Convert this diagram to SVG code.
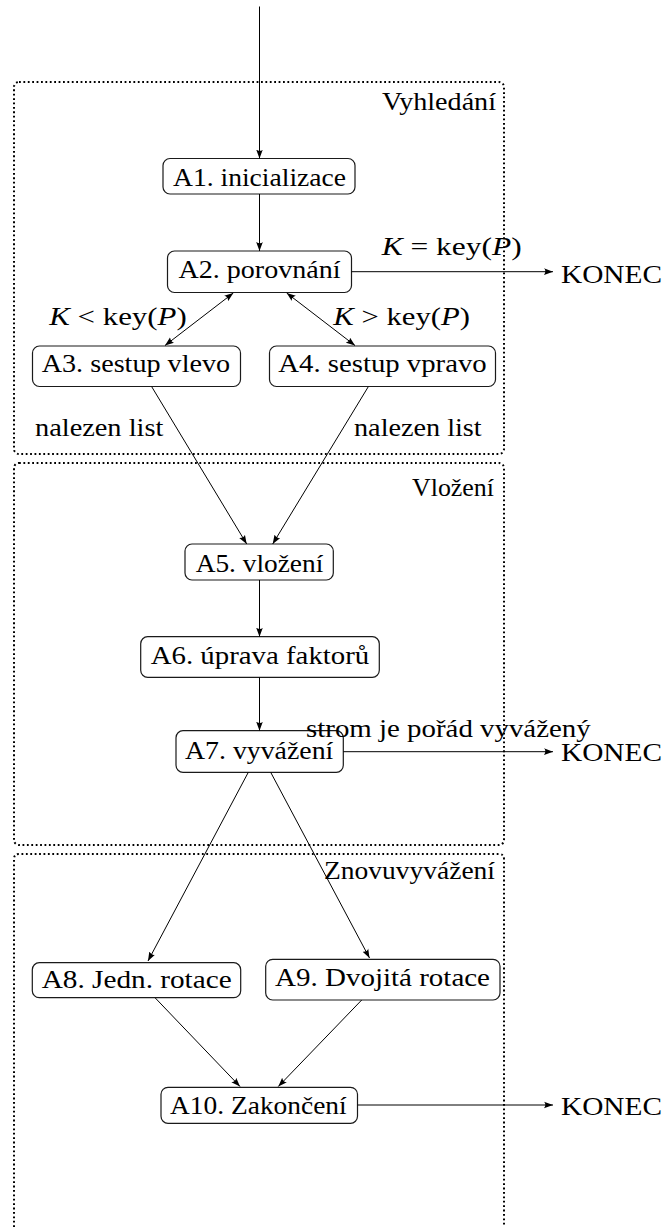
<svg xmlns="http://www.w3.org/2000/svg" width="663" height="1227" viewBox="0 0 663 1227">
<style>
  text { font-family: "Liberation Serif", "Times New Roman", serif; font-size: 25px; fill: #000; }
  .it { font-style: italic; }
  .node rect { fill: #fff; stroke: #1a1a1a; stroke-width: 1.2; }
  .frame { fill: none; stroke: #000; stroke-width: 2; stroke-dasharray: 1.8 2.6; }
  .conn line { stroke: #000; stroke-width: 1; fill: none; }
</style>
<defs>
  <marker id="arr" viewBox="0 0 10 8" refX="10" refY="4" markerWidth="9" markerHeight="7.2" markerUnits="userSpaceOnUse" orient="auto-start-reverse">
    <path d="M0,0.3 Q3,3 0,7.7 L10,4 Z" fill="#000"/>
  </marker>
</defs>
<rect width="663" height="1227" fill="#fff"/>

<g id="frames">
  <rect class="frame" x="14" y="82" width="490" height="372" rx="5"/>
  <rect class="frame" x="14" y="463" width="490" height="382" rx="5"/>
  <path class="frame" d="M14,1227 V859 Q14,854 19,854 H499 Q504,854 504,859 V1227"/>
  <text x="382" y="110" textLength="114" lengthAdjust="spacingAndGlyphs">Vyhledání</text>
  <text x="412" y="496" textLength="82" lengthAdjust="spacingAndGlyphs">Vložení</text>
  <text x="324" y="879" textLength="171" lengthAdjust="spacingAndGlyphs">Znovuvyvážení</text>
</g>

<g id="nodes">
  <g id="A1" class="node"><rect x="163" y="158.5" width="192" height="35.5" rx="7"/><text x="173" y="186" textLength="173" lengthAdjust="spacingAndGlyphs">A1. inicializace</text></g>
  <g id="A2" class="node"><rect x="167.5" y="251" width="184" height="41.5" rx="7"/><text x="178.5" y="277.7" textLength="162" lengthAdjust="spacingAndGlyphs">A2. porovnání</text></g>
  <g id="A3" class="node"><rect x="32.5" y="346" width="208" height="40.5" rx="7"/><text x="41.7" y="371.7" textLength="188.5" lengthAdjust="spacingAndGlyphs">A3. sestup vlevo</text></g>
  <g id="A4" class="node"><rect x="269.5" y="346" width="226" height="40.5" rx="7"/><text x="278.3" y="371.7" textLength="208.4" lengthAdjust="spacingAndGlyphs">A4. sestup vpravo</text></g>
  <g id="A5" class="node"><rect x="185" y="544" width="148.3" height="36" rx="7"/><text x="195.7" y="571.7" textLength="127.6" lengthAdjust="spacingAndGlyphs">A5. vložení</text></g>
  <g id="A6" class="node"><rect x="140.7" y="636.7" width="238.6" height="40.6" rx="7"/><text x="150.7" y="664" textLength="218.6" lengthAdjust="spacingAndGlyphs">A6. úprava faktorů</text></g>
  <g id="A7" class="node"><rect x="176" y="730.7" width="167.3" height="41.6" rx="7"/><text x="185" y="759.3" textLength="148.3" lengthAdjust="spacingAndGlyphs">A7. vyvážení</text></g>
  <g id="A8" class="node"><rect x="32.3" y="962.7" width="208.4" height="35" rx="7"/><text x="41.7" y="988.3" textLength="190" lengthAdjust="spacingAndGlyphs">A8. Jedn. rotace</text></g>
  <g id="A9" class="node"><rect x="265.7" y="959.3" width="234.3" height="40.7" rx="7"/><text x="275" y="985.7" textLength="215" lengthAdjust="spacingAndGlyphs">A9. Dvojitá rotace</text></g>
  <g id="A10" class="node"><rect x="161" y="1087.3" width="196.5" height="36" rx="7"/><text x="170" y="1114" textLength="176.7" lengthAdjust="spacingAndGlyphs">A10. Zakončení</text></g>
</g>

<g id="connectors" class="conn">
  <line x1="259.5" y1="6.5" x2="259.5" y2="158.5" marker-end="url(#arr)"/>
  <line x1="259.5" y1="194" x2="259.5" y2="251" marker-end="url(#arr)"/>
  <line x1="351.5" y1="271.7" x2="553" y2="271.7" marker-end="url(#arr)"/>
  <line x1="233.3" y1="293" x2="165" y2="345.5" marker-start="url(#arr)" marker-end="url(#arr)"/>
  <line x1="286.7" y1="293" x2="355" y2="345.5" marker-start="url(#arr)" marker-end="url(#arr)"/>
  <line x1="151.7" y1="386.7" x2="246.7" y2="544" marker-end="url(#arr)"/>
  <line x1="368.3" y1="386.7" x2="272.7" y2="544" marker-end="url(#arr)"/>
  <line x1="259.5" y1="580" x2="259.5" y2="636.7" marker-end="url(#arr)"/>
  <line x1="259.5" y1="677.3" x2="259.5" y2="730.7" marker-end="url(#arr)"/>
  <line x1="343.3" y1="751.7" x2="553" y2="751.7" marker-end="url(#arr)"/>
  <line x1="248.3" y1="772.3" x2="148" y2="961" marker-end="url(#arr)"/>
  <line x1="270.7" y1="772.3" x2="369.5" y2="958" marker-end="url(#arr)"/>
  <line x1="155" y1="997.7" x2="240" y2="1086.5" marker-end="url(#arr)"/>
  <line x1="361.7" y1="1000" x2="278.3" y2="1086.5" marker-end="url(#arr)"/>
  <line x1="357.5" y1="1105" x2="553" y2="1105" marker-end="url(#arr)"/>
</g>

<g id="labels">
  <text x="381.7" y="255" textLength="140" lengthAdjust="spacingAndGlyphs"><tspan class="it">K</tspan> = key(<tspan class="it">P</tspan>)</text>
  <text x="49.3" y="325" textLength="137.4" lengthAdjust="spacingAndGlyphs"><tspan class="it">K</tspan> &lt; key(<tspan class="it">P</tspan>)</text>
  <text x="333.3" y="325" textLength="136.7" lengthAdjust="spacingAndGlyphs"><tspan class="it">K</tspan> &gt; key(<tspan class="it">P</tspan>)</text>
  <text x="35" y="435.7" textLength="128.3" lengthAdjust="spacingAndGlyphs">nalezen list</text>
  <text x="354" y="435.7" textLength="127.7" lengthAdjust="spacingAndGlyphs">nalezen list</text>
  <text x="306" y="736.7" textLength="284.7" lengthAdjust="spacingAndGlyphs">strom je pořád vyvážený</text>
  <text x="561" y="283.3" textLength="101" lengthAdjust="spacingAndGlyphs">KONEC</text>
  <text x="561" y="761" textLength="101" lengthAdjust="spacingAndGlyphs">KONEC</text>
  <text x="561" y="1115" textLength="101" lengthAdjust="spacingAndGlyphs">KONEC</text>
</g>
</svg>
